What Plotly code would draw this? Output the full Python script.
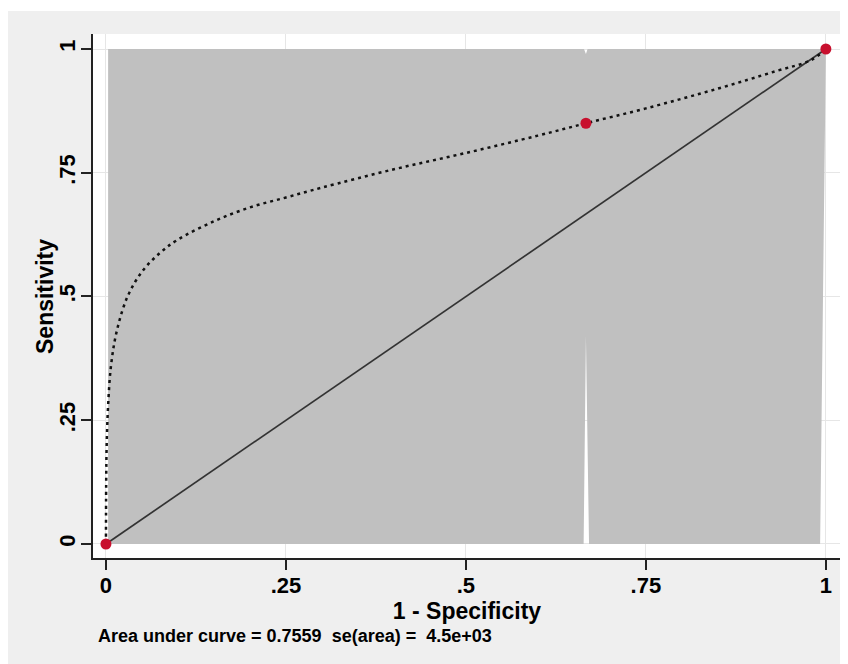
import plotly.graph_objects as go

# Observed points (1 - specificity, sensitivity)
pt_x = [0.0, 0.6667, 1.0]
pt_y = [0.0, 0.85, 1.0]

# Fitted (smooth) ROC curve
fit_x = [0.0, 0.0003, 0.001, 0.003, 0.007, 0.015, 0.03, 0.05, 0.075, 0.1, 0.15, 0.2,
         0.25, 0.3, 0.4, 0.5, 0.6, 0.6667, 0.75, 0.85, 0.93, 0.98, 1.0]
fit_y = [0.0, 0.12, 0.2, 0.28, 0.36, 0.43, 0.5, 0.55, 0.588, 0.615, 0.652, 0.68,
         0.7, 0.72, 0.757, 0.79, 0.825, 0.85, 0.88, 0.92, 0.955, 0.978, 1.0]

# Reference diagonal
diag_x = [0.0, 1.0]
diag_y = [0.0, 1.0]

# Confidence band (upper and lower bounds)
band_up_x = [0.003, 0.664, 0.6667, 0.669, 1.0]
band_up_y = [1.0, 1.0, 0.99, 1.0, 1.0]
band_lo_x = [0.003, 0.6635, 0.6667, 0.671, 0.992]
band_lo_y = [0.0, 0.0, 0.42, 0.0, 0.0]

tick_vals = [0, 0.25, 0.5, 0.75, 1]
tick_text = ["0", ".25", ".5", ".75", "1"]

x_title = "1 - Specificity"
y_title = "Sensitivity"
note_text = "Area under curve = 0.7559  se(area) =  4.5e+03"

FONT = "Liberation Sans, Arial, sans-serif"

# plot area in figure pixels (page is offset by the 8px body margin)
L, R, T, B = 85, 833, 26, 550
W, H = 848, 664
PW, PH = R - L, B - T

fig = go.Figure()

poly_x = band_up_x + band_lo_x[::-1]
poly_y = band_up_y + band_lo_y[::-1]
fig.add_trace(go.Scatter(x=poly_x, y=poly_y, fill="toself", fillcolor="#c0c0c0",
                         line=dict(width=0), mode="lines", hoverinfo="skip",
                         showlegend=False))
fig.add_trace(go.Scatter(x=diag_x, y=diag_y, mode="lines",
                         line=dict(color="#333333", width=1.7), showlegend=False))
fig.add_trace(go.Scatter(x=fit_x, y=fit_y, mode="lines", line_shape="spline",
                         line=dict(color="#111111", width=2.5, dash="3px,4px"),
                         showlegend=False))
fig.add_trace(go.Scatter(x=pt_x, y=pt_y, mode="markers",
                         marker=dict(color="#c8102e", size=11), showlegend=False))

fig.update_layout(
    width=W, height=H,
    margin=dict(l=L, r=W - R, t=T, b=H - B),
    paper_bgcolor="#efefef",
    plot_bgcolor="white",
    font=dict(family=FONT, color="#000000"),
    xaxis=dict(range=[-0.018, 1.021], tickvals=tick_vals,
               ticktext=["<b>" + t + "</b>" for t in tick_text],
               ticks="outside", ticklen=10, tickwidth=1.5, tickcolor="#222",
               showline=True, linecolor="#222", linewidth=1.5,
               showgrid=True, gridcolor="#e6e6e6", gridwidth=1, zeroline=False,
               tickfont=dict(size=22), ticklabelstandoff=-3,
               title=dict(text="<b>" + x_title + "</b>", font=dict(size=23), standoff=0)),
    yaxis=dict(range=[-0.0283, 1.0303], tickvals=tick_vals,
               ticktext=["<b>" + t + "</b>" for t in tick_text],
               ticks="outside", ticklen=10, tickwidth=1.5, tickcolor="#222",
               showline=True, linecolor="#222", linewidth=1.5,
               showgrid=True, gridcolor="#e6e6e6", gridwidth=1, zeroline=False,
               tickangle=-90, tickfont=dict(size=22), ticklabelstandoff=-3),
    shapes=[
        dict(type="rect", xref="paper", yref="paper", x0=-0.2, x1=1.2,
             y0=1 + (T - 3) / PH, y1=1 + (T + 5) / PH, fillcolor="white",
             line=dict(width=0), layer="below"),
    ],
    annotations=[
        dict(text="<b>" + note_text + "</b>", xref="paper", yref="paper",
             x=(88 - L) / PW, y=(B - 628) / PH, xanchor="left",
             yanchor="middle", showarrow=False, font=dict(size=18)),
        dict(text="<b>" + y_title + "</b>", xref="paper", yref="paper",
             x=(37 - L) / PW, y=(B - 288) / PH, xanchor="center",
             yanchor="middle", textangle=-90, showarrow=False, font=dict(size=23)),
    ],
)

fig.write_html("out.html")
